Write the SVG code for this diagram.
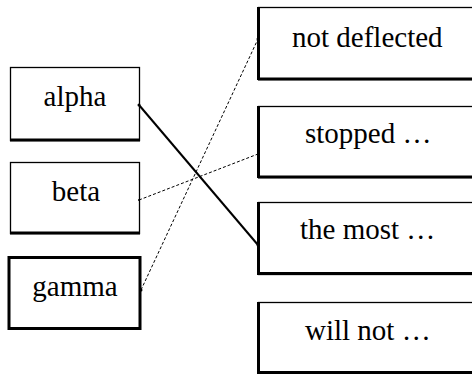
<svg xmlns="http://www.w3.org/2000/svg" width="472" height="375" viewBox="0 0 472 375">
<style>
.box{fill:#fff;stroke:#000;stroke-width:1.3}
.thick{stroke:#000;stroke-width:3;fill:none}
.t{font-family:"Liberation Serif","Times New Roman",serif;font-size:29px;fill:#000}
.c{stroke:#000;fill:none}
.dash{stroke-width:1;stroke-dasharray:3 2}
.solid{stroke-width:2}
</style>
<rect width="472" height="375" fill="#fff"/>
<g id="alpha">
<rect class="box" x="10.5" y="67.5" width="129" height="73"/>
<line class="thick" x1="10" y1="140" x2="140" y2="140"/>
<text class="t" x="75" y="106" text-anchor="middle">alpha</text>
</g>
<g id="beta">
<rect class="box" x="10.5" y="162.5" width="129" height="71"/>
<line class="thick" x1="10" y1="233" x2="140" y2="233"/>
<text class="t" x="76" y="201" text-anchor="middle">beta</text>
</g>
<g id="gamma">
<rect class="box" x="9" y="257.5" width="131" height="71" style="stroke-width:3"/>
<text class="t" x="75" y="296" text-anchor="middle">gamma</text>
</g>
<g id="not-deflected">
<rect class="box" x="258.5" y="7.5" width="220" height="72"/>
<line class="thick" x1="258.5" y1="7" x2="258.5" y2="80"/>
<line class="thick" x1="258" y1="79" x2="472" y2="79"/>
<text class="t" x="292" y="47">not deflected</text>
</g>
<g id="stopped">
<rect class="box" x="258.5" y="106.5" width="220" height="71"/>
<line class="thick" x1="258.5" y1="106" x2="258.5" y2="178"/>
<line class="thick" x1="258" y1="177" x2="472" y2="177"/>
<text class="t" x="305" y="143">stopped …</text>
</g>
<g id="the-most">
<rect class="box" x="258.5" y="202.5" width="220" height="72"/>
<line class="thick" x1="258.5" y1="202" x2="258.5" y2="275"/>
<line class="thick" x1="258" y1="273.5" x2="472" y2="273.5"/>
<text class="t" x="300" y="239">the most …</text>
</g>
<g id="will-not">
<rect class="box" x="258.5" y="302.5" width="220" height="70"/>
<line class="thick" x1="258.5" y1="302" x2="258.5" y2="374"/>
<line class="thick" x1="258" y1="372.5" x2="472" y2="372.5"/>
<text class="t" x="305" y="340">will not …</text>
</g>
<g id="connectors">
<line class="c solid" x1="139" y1="105" x2="258" y2="245"/>
<line class="c dash" x1="139" y1="200" x2="258" y2="154"/>
<line class="c dash" x1="141" y1="290" x2="258" y2="39"/>
<circle cx="139" cy="105" r="1.5"/>
<circle cx="258" cy="245" r="1.5"/>
<circle cx="139" cy="200" r="1"/>
<circle cx="141" cy="290" r="1.5"/>
<circle cx="258" cy="39" r="1.5"/>
</g>
</svg>
